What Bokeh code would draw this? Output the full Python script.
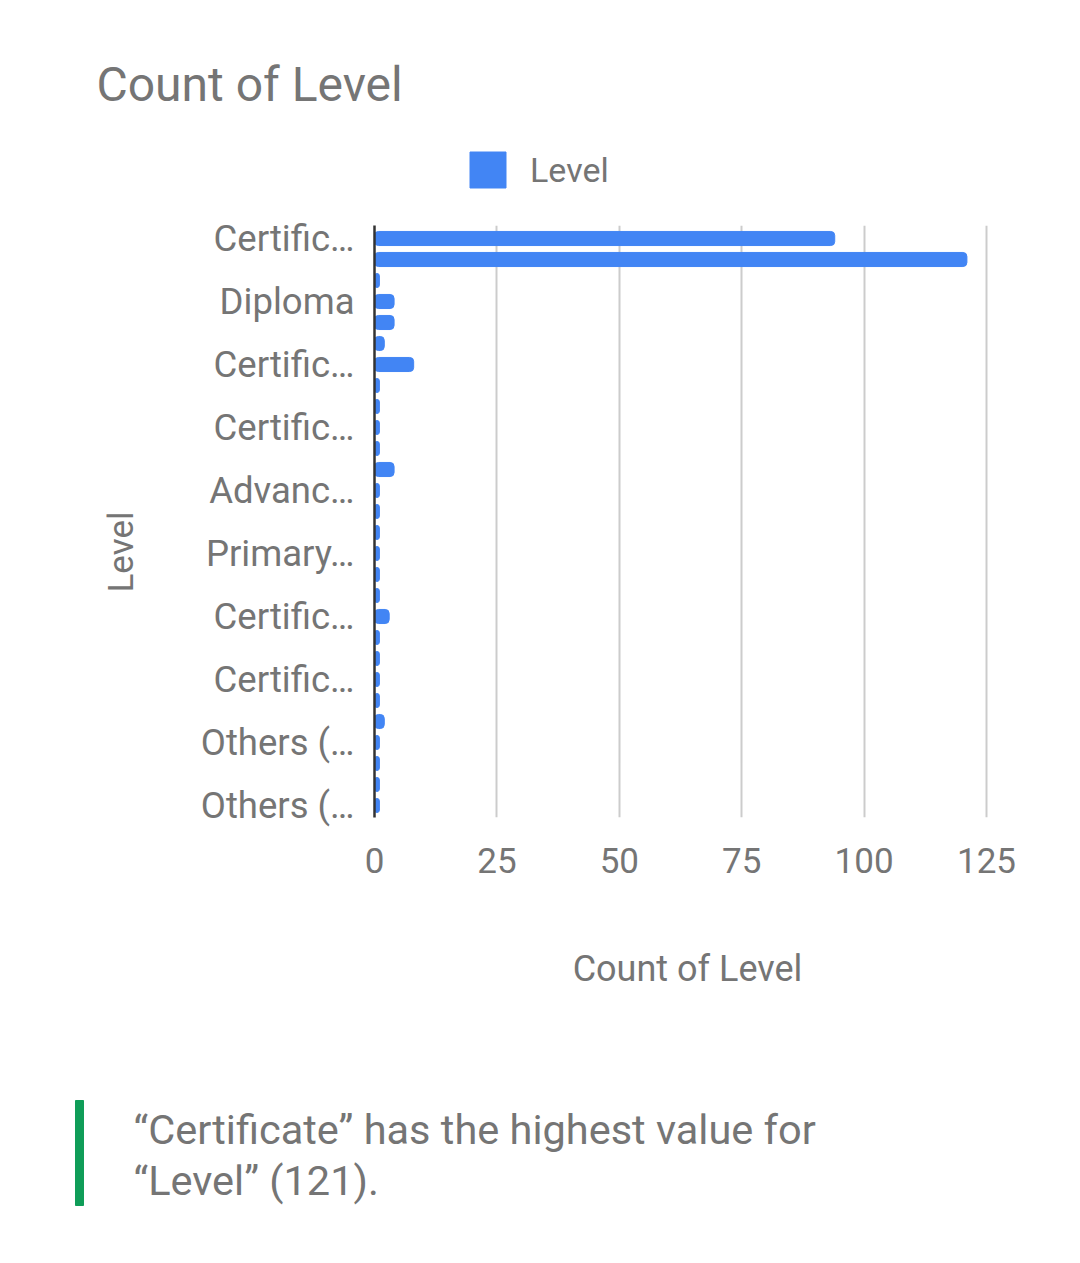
from bokeh.plotting import figure
from bokeh.models import (Range1d, FixedTicker, Label, Legend, LegendItem, ColumnDataSource, Title)
from bokeh.embed import file_html
from bokeh.resources import INLINE

# ---- data ----
tick_labels = ["Certific\u2026", "Diploma", "Certific\u2026", "Certific\u2026", "Advanc\u2026",
               "Primary\u2026", "Certific\u2026", "Certific\u2026", "Others (\u2026", "Others (\u2026"]
values = [94, 121, 1, 4, 4, 2, 8, 1, 1, 1,
          1, 4, 1, 1, 1, 1, 1, 1, 3, 1,
          1, 1, 1, 2, 1, 1, 1, 1]
positions = list(range(len(values)))
tick_positions = positions[::3]
x_ticks = [0, 25, 50, 75, 100, 125]

title_text = "Count of Level"
series_name = "Level"
x_title = "Count of Level"
y_title = "Level"
insight_lines = ["\u201cCertificate\u201d has the highest value for", "\u201cLevel\u201d (121)."]

FONT = "Roboto"
GREY = "#757575"
BLUE = "#4285f4"

W = 1080
HEAD_H, CHART_H, FOOT_H = 200, 860, 203

# frame geometry inside the chart canvas (pixels)
FR_L, FR_R = 374, 1000
FR_T, FR_B = 225 - HEAD_H, 817 - HEAD_H
PXU = (986 - FR_L) / 125.0       # px per count
Y0, PYU = 238 - HEAD_H, 21.0     # first bar centre, px per category

# ---------------- header: title + legend ----------------
h = figure(width=W, height=HEAD_H, output_backend="svg", toolbar_location=None,
           x_range=Range1d(0, W), y_range=Range1d(HEAD_H, 0), min_border=0)
h.axis.visible = False
h.grid.visible = False
h.outline_line_color = None
h.add_layout(Label(x=96, y=84, text=title_text, text_font=FONT, text_font_size="48px",
                   text_color=GREY, text_baseline="alphabetic"))
# legend key: same series, not drawn in the header itself
key = h.hbar(y=positions[:1], right=values[:1], left=0, height=0.67, color=BLUE, visible=False)
legend = Legend(items=[LegendItem(label=series_name, renderers=[key])],
                location=(465, HEAD_H - 192), orientation="horizontal",
                glyph_width=45, glyph_height=45, label_standoff=20,
                label_text_font=FONT, label_text_font_size="34px", label_text_color=GREY,
                padding=0, margin=0, border_line_color=None, background_fill_alpha=0,
                inactive_fill_alpha=0)
h.add_layout(legend, "center")

# ---------------- chart ----------------
src = ColumnDataSource(dict(y=positions, v=values))

p = figure(width=W, height=CHART_H, output_backend="svg", toolbar_location=None,
           x_range=Range1d(0, (FR_R - FR_L) / PXU),
           y_range=Range1d((FR_B - Y0) / PYU, (FR_T - Y0) / PYU),
           min_border_left=FR_L, min_border_right=W - FR_R,
           min_border_top=FR_T, min_border_bottom=CHART_H - FR_B)
p.outline_line_color = None
p.background_fill_color = "white"
p.border_fill_color = "white"

p.hbar(y="y", right="v", left=0, height=0.67, source=src, color=BLUE, border_radius=4)

# x axis
p.xaxis.ticker = FixedTicker(ticks=x_ticks)
p.xaxis.axis_line_color = None
p.xaxis.major_tick_line_color = None
p.xaxis.minor_tick_line_color = None
p.xaxis.major_label_text_font = FONT
p.xaxis.major_label_text_font_size = "35px"
p.xaxis.major_label_text_color = GREY
p.xaxis.major_label_standoff = 24
p.xaxis.axis_label = x_title
p.xaxis.axis_label_text_font = FONT
p.xaxis.axis_label_text_font_size = "36px"
p.xaxis.axis_label_text_font_style = "normal"
p.xaxis.axis_label_text_color = GREY
p.xaxis.axis_label_standoff = 72

# y axis
p.yaxis.ticker = FixedTicker(ticks=tick_positions)
p.yaxis.major_label_overrides = {pos: lab for pos, lab in zip(tick_positions, tick_labels)}
p.yaxis.axis_line_color = "#333333"
p.yaxis.axis_line_width = 2.5
p.yaxis.major_tick_line_color = None
p.yaxis.minor_tick_line_color = None
p.yaxis.major_label_text_font = FONT
p.yaxis.major_label_text_font_size = "36.5px"
p.yaxis.major_label_text_color = GREY
p.yaxis.major_label_standoff = 14

p.xgrid.grid_line_color = "#cccccc"
p.xgrid.grid_line_width = 2
p.ygrid.grid_line_color = None

# y axis title as a side title (sits lower than the frame centre, as in the reference)
p.add_layout(Title(text=y_title, align="left", offset=FR_B - (592 - HEAD_H), vertical_align="bottom",
                   standoff=111, text_font=FONT, text_font_size="35px",
                   text_font_style="normal", text_color=GREY), "left")

# ---------------- footer ----------------
f = figure(width=W, height=FOOT_H, output_backend="svg", toolbar_location=None,
           x_range=Range1d(0, W), y_range=Range1d(FOOT_H, 0), min_border=0)
f.axis.visible = False
f.grid.visible = False
f.outline_line_color = None
f.quad(left=[75], right=[83], top=[40], bottom=[145], color="#0f9d58")
f.add_layout(Label(x=133, y=69, text=insight_lines[0], text_font=FONT, text_font_size="41.5px",
                   text_color=GREY, text_baseline="alphabetic"))
f.add_layout(Label(x=133, y=120, text=insight_lines[1], text_font=FONT, text_font_size="41.5px",
                   text_color=GREY, text_baseline="alphabetic"))

open("out.html", "w").write(file_html([h, p, f], INLINE))
